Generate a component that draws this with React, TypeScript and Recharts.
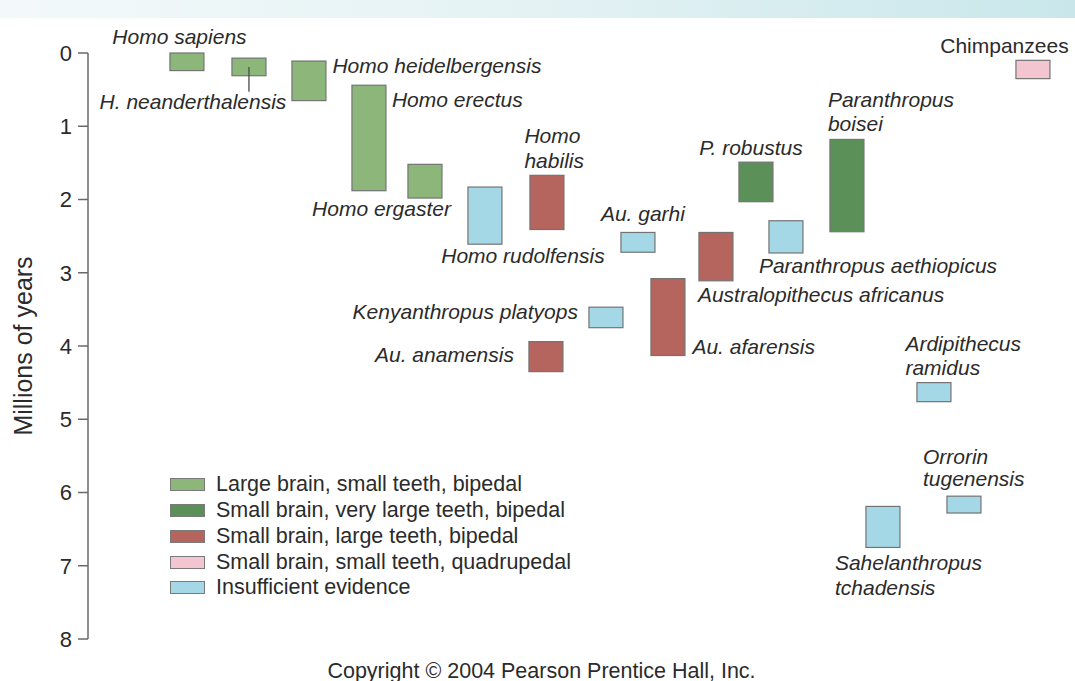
import { BarChart, Bar, XAxis, YAxis, Cell, Legend, Label } from "recharts";

// species, left to right roughly as drawn
const species = [
  "Homo sapiens",
  "H. neanderthalensis",
  "Homo heidelbergensis",
  "Homo erectus",
  "Homo ergaster",
  "Homo rudolfensis",
  "Homo habilis",
  "Au. anamensis",
  "Kenyanthropus platyops",
  "Au. garhi",
  "Au. afarensis",
  "Australopithecus africanus",
  "P. robustus",
  "Paranthropus aethiopicus",
  "Paranthropus boisei",
  "Sahelanthropus tchadensis",
  "Ardipithecus ramidus",
  "Orrorin tugenensis",
  "Chimpanzees",
];

// horizontal column of each species (no real x scale in the figure)
const slots = [9.9, 16.1, 22.1, 28.1, 33.7, 39.7, 45.9, 45.8, 51.8, 55.0, 58.0, 62.8, 66.8, 69.8, 75.9, 79.5, 84.6, 87.6, 94.5];

// millions of years ago
const ageFrom = [0.0, 0.07, 0.11, 0.44, 1.52, 1.83, 1.67, 3.94, 3.47, 2.45, 3.08, 2.45, 1.49, 2.29, 1.18, 6.19, 4.5, 6.05, 0.1];
const ageTo = [0.24, 0.31, 0.65, 1.88, 1.98, 2.61, 2.41, 4.35, 3.75, 2.72, 4.13, 3.11, 2.03, 2.73, 2.44, 6.75, 4.76, 6.28, 0.35];

const groupOf = [0, 0, 0, 0, 0, 4, 2, 2, 4, 4, 2, 2, 1, 4, 1, 4, 4, 4, 3];

const groups = [
  "Large brain, small teeth, bipedal",
  "Small brain, very large teeth, bipedal",
  "Small brain, large teeth, bipedal",
  "Small brain, small teeth, quadrupedal",
  "Insufficient evidence",
];
const groupColors = ["#8db77a", "#5b9158", "#b5645e", "#f2c5d0", "#a5d8e6"];

const yTicks = [0, 1, 2, 3, 4, 5, 6, 7, 8];

const data = species.map((name, i) => ({
  name,
  slot: slots[i],
  span: [ageFrom[i], ageTo[i]],
  group: groupOf[i],
}));

// where each name sits relative to its box
type Place = { ref: "top" | "bottom"; anchor: "start" | "middle" | "end"; dx: number; dy: number[]; lines?: string[]; leader?: boolean; upright?: boolean };
const places: Record<string, Place> = {
  "Homo sapiens": { ref: "top", anchor: "middle", dx: -7.5, dy: [-9] },
  "H. neanderthalensis": { ref: "bottom", anchor: "middle", dx: -56, dy: [33], leader: true },
  "Homo heidelbergensis": { ref: "top", anchor: "start", dx: 23.5, dy: [12] },
  "Homo erectus": { ref: "top", anchor: "start", dx: 23, dy: [22] },
  "Homo ergaster": { ref: "bottom", anchor: "end", dx: 26, dy: [18] },
  "Homo rudolfensis": { ref: "bottom", anchor: "middle", dx: 38, dy: [18.5] },
  "Homo habilis": { ref: "top", anchor: "start", dx: -22.5, dy: [-32, -7], lines: ["Homo", "habilis"] },
  "Au. anamensis": { ref: "top", anchor: "end", dx: -32, dy: [20] },
  "Kenyanthropus platyops": { ref: "top", anchor: "end", dx: -28, dy: [12] },
  "Au. garhi": { ref: "top", anchor: "middle", dx: 5, dy: [-11] },
  "Au. afarensis": { ref: "bottom", anchor: "start", dx: 24.5, dy: [-2] },
  "Australopithecus africanus": { ref: "bottom", anchor: "start", dx: -18, dy: [21] },
  "P. robustus": { ref: "top", anchor: "middle", dx: -5, dy: [-7] },
  "Paranthropus aethiopicus": { ref: "bottom", anchor: "start", dx: -27, dy: [20] },
  "Paranthropus boisei": { ref: "top", anchor: "start", dx: -19, dy: [-32, -8], lines: ["Paranthropus", "boisei"] },
  "Sahelanthropus tchadensis": { ref: "bottom", anchor: "start", dx: -48, dy: [23, 48], lines: ["Sahelanthropus", "tchadensis"] },
  "Ardipithecus ramidus": { ref: "top", anchor: "start", dx: -28.5, dy: [-32, -8], lines: ["Ardipithecus", "ramidus"] },
  "Orrorin tugenensis": { ref: "top", anchor: "start", dx: -41, dy: [-32, -10], lines: ["Orrorin", "tugenensis"] },
  Chimpanzees: { ref: "top", anchor: "middle", dx: -28.5, dy: [-7], upright: true },
};

const FONT = "'Liberation Sans', Arial, Helvetica, sans-serif";
const INK = "#2b2b2b";
const BOX_W = 34;

function SpeciesBox(props: any) {
  const { x, y, width, height, fill, payload } = props;
  const cx = x + (width || 0) / 2;
  const top = Math.min(y, y + height);
  const bottom = Math.max(y, y + height);
  const p = places[payload.name];
  const refY = p.ref === "top" ? top : bottom;
  const lines = p.lines || [payload.name];
  return (
    <g>
      <rect x={cx - BOX_W / 2} y={top} width={BOX_W} height={bottom - top} fill={fill} stroke="#737373" strokeWidth={1.2} />
      {p.leader && (
        <line x1={cx} y1={(top + bottom) / 2} x2={cx} y2={bottom + 16} stroke="#4a4a4a" strokeWidth={1.3} />
      )}
      {lines.map((t, k) => (
        <text
          key={k}
          x={cx + p.dx}
          y={refY + p.dy[k]}
          textAnchor={p.anchor}
          fontFamily={FONT}
          fontSize={21}
          fontStyle={p.upright ? "normal" : "italic"}
          fill={INK}
        >
          {t}
        </text>
      ))}
    </g>
  );
}

function GroupLegend() {
  return (
    <div style={{ fontFamily: FONT, fontSize: 21.5, color: INK, textAlign: "left" }}>
      {groups.map((g, i) => (
        <div key={g} style={{ display: "flex", alignItems: "center", height: 25.75 }}>
          <span
            style={{
              display: "inline-block",
              width: 33,
              height: 11,
              background: groupColors[i],
              border: "1px solid #7a7a7a",
              marginRight: 11,
            }}
          />
          <span>{g}</span>
        </div>
      ))}
    </div>
  );
}

export default function App() {
  return (
    <div style={{ position: "absolute", left: 0, top: 0, width: 1075, height: 681, background: "#fff", overflow: "hidden" }}>
      <div
        style={{
          position: "absolute",
          left: 0,
          top: 0,
          width: 1075,
          height: 18,
          background: "linear-gradient(to right, #f3f9fa, #e4f2f4 50%, #c9e7eb)",
        }}
      />
      <BarChart width={1075} height={681} data={data} margin={{ top: 53, right: 7, bottom: 42, left: 0 }}>
        <XAxis dataKey="slot" type="number" domain={[0, 98]} hide />
        <YAxis
          type="number"
          domain={[0, 8]}
          reversed
          ticks={yTicks}
          interval={0}
          width={88}
          tickSize={10}
          tickMargin={6}
          axisLine={{ stroke: "#6a6a6a", strokeWidth: 1.5 }}
          tickLine={{ stroke: "#6a6a6a", strokeWidth: 1.5 }}
          tick={{ fill: INK, fontSize: 22, fontFamily: FONT }}
        >
          <Label
            content={({ viewBox }: any) => {
              const lx = viewBox.x + 23;
              const ly = viewBox.y + viewBox.height / 2;
              return (
                <text
                  x={lx}
                  y={ly}
                  transform={`rotate(-90, ${lx}, ${ly})`}
                  textAnchor="middle"
                  dominantBaseline="central"
                  fontFamily={FONT}
                  fontSize={25}
                  fill={INK}
                >
                  Millions of years
                </text>
              );
            }}
          />
        </YAxis>
        <Legend
          layout="horizontal"
          verticalAlign="middle"
          align="center"
          wrapperStyle={{ left: 170, top: 472, width: 460 }}
          content={() => <GroupLegend />}
        />
        <Bar dataKey="span" barSize={BOX_W} isAnimationActive={false} shape={(p: any) => <SpeciesBox {...p} />}>
          {data.map((d) => (
            <Cell key={d.name} fill={groupColors[d.group]} />
          ))}
        </Bar>
      </BarChart>
      <div
        style={{
          position: "absolute",
          left: 0,
          top: 659,
          width: 1083,
          textAlign: "center",
          fontFamily: FONT,
          fontSize: 21.5,
          color: INK,
        }}
      >
        Copyright © 2004 Pearson Prentice Hall, Inc.
      </div>
    </div>
  );
}
